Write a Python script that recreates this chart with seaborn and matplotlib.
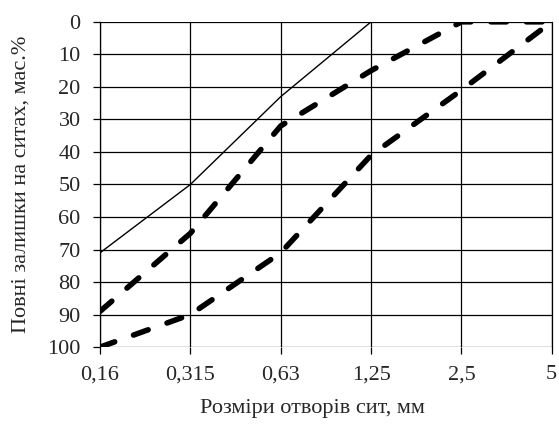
import numpy as np
import pandas as pd
import seaborn as sns
import matplotlib.pyplot as plt

sieves = ["0,16", "0,315", "0,63", "1,25", "2,5", "5"]
solid_vals = [71, 50, 23, 0, 0, 0]
dash1_vals = [89, 65, 32, 15, 0, 0]
dash2_vals = [100, 90, 71, 41, 21, 0]

sns.set_style("white")
plt.rcParams['font.family'] = ['Liberation Serif', 'DejaVu Serif']

fig, ax = plt.subplots(figsize=(5.59, 4.28), dpi=100)
fig.subplots_adjust(left=0.179, right=0.987, top=0.949, bottom=0.189)

pos = np.arange(len(sieves))
df = pd.DataFrame({"pos": pos, "solid": solid_vals, "d1": dash1_vals, "d2": dash2_vals})

sns.lineplot(data=df, x="pos", y="solid", ax=ax, color="black", lw=1.0)
for col in ["d1", "d2"]:
    sns.lineplot(data=df, x="pos", y=col, ax=ax, color="black", lw=4)
    line = ax.lines[-1]
    line.set_dashes([2.8, 3.6])
    line.set_dash_capstyle("round")

ax.set_xlim(pos[0], pos[-1])
ax.set_ylim(100, 0)
ax.set_yticks(np.arange(0, 101, 10))
ax.set_xticks(pos)
ax.set_xticklabels(sieves)
ax.grid(True, color="black", lw=0.9)
ax.tick_params(axis="both", bottom=True, left=True, length=5, width=0.9,
               color="black", labelsize=16, direction="out")
ax.tick_params(axis="x", pad=8)
ax.tick_params(axis="y", pad=9)
for s in ax.spines.values():
    s.set_visible(False)
for side in ["left", "right"]:
    ax.spines[side].set_visible(True)
    ax.spines[side].set_color("black")
    ax.spines[side].set_linewidth(0.9)
ax.set_xlabel("Розміри отворів сит, мм", fontsize=16)
ax.set_ylabel("Повні залишки на ситах, мас.%", fontsize=16)
ax.xaxis.set_label_coords(0.47, -0.16)
ax.yaxis.set_label_coords(-0.155, 0.5)

fig.savefig("out.png", dpi=100)
